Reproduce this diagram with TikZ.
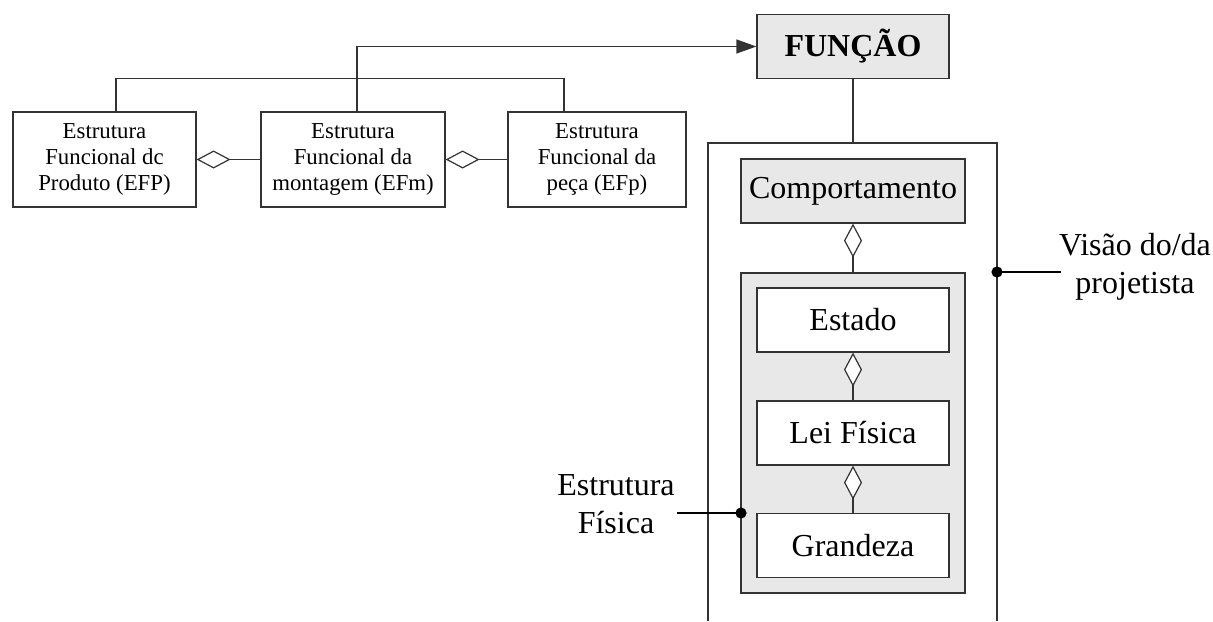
\documentclass[tikz,border=0pt]{standalone}
\usepackage{fontspec}
\setmainfont{Liberation Serif}
\usetikzlibrary{arrows.meta}
\definecolor{boxgray}{HTML}{E8E8E8}
\definecolor{linegray}{HTML}{333333}
\tikzset{
  smallbox/.style={draw=linegray, line width=0.6pt, fill=white, inner sep=0pt,
    align=center, minimum width=#1, minimum height=47.5pt,
    font=\fontsize{11.4}{13}\selectfont},
  bigbox/.style={draw=linegray, line width=0.6pt, inner sep=0pt, align=center,
    minimum width=96pt, minimum height=32pt, font=\fontsize{16}{19}\selectfont},
  lbl/.style={inner sep=0pt, align=center, font=\fontsize{16}{19}\selectfont},
  wire/.style={draw=linegray, line width=0.6pt},
  agg/.style={wire, {Diamond[fill=white, length=17pt, width=9pt]}-},
  pin/.style={draw=black, line width=0.9pt},
}
\begin{document}
\begin{tikzpicture}[x=0.5pt, y=-0.5pt]
\useasboundingbox (0,0) rectangle (1213,621);

% functional structure boxes
\node[smallbox=91.5pt] (b1) at (104.5,159.5) {Estrutura\\Funcional dc\\Produto (EFP)};
\node[smallbox=92pt] (b2) at (353,159.5) {Estrutura\\Funcional da\\montagem (EFm)};
\node[smallbox=89pt] (b3) at (597,159.5) {Estrutura\\Funcional da\\peça (EFp)};

\draw[agg] (b1.east) -- (b2.west);
\draw[agg] (b2.east) -- (b3.west);

\draw[wire] ([xshift=5.75pt]b1.north) -- ++(0,-33) -| ([xshift=-16.5pt]b3.north);

% function
\node[bigbox, fill=boxgray, font=\fontsize{16}{19}\selectfont\bfseries] (f) at (853,46.5) {FUNÇÃO};
\draw[wire, -{Triangle[length=10pt, width=7pt]}] ([xshift=2pt]b2.north) |- (f.west);

% designer's view frame
\coordinate (ftop) at (853,143);
\coordinate (fl0) at (708,621);
\coordinate (fl1) at (708,143);
\coordinate (fr1) at (997,143);
\coordinate (fr0) at (997,621);
\draw[wire] (f.south) -- (ftop);
\draw[wire] (fl0) -- (fl1) -- (fr1) -- (fr0);

\node[bigbox, fill=boxgray, minimum width=112pt] (comp) at (853,191) {Comportamento};

% physical structure
\node[draw=linegray, line width=0.6pt, fill=boxgray, minimum width=112pt, minimum height=160pt, inner sep=0pt] (ps) at (853,433) {};
\node[bigbox, fill=white] (est) at (853,320) {Estado};
\node[bigbox, fill=white] (lei) at (853,433) {Lei Física};
\node[bigbox, fill=white] (gra) at (853,545.5) {Grandeza};

\draw[agg] (comp.south) -- (ps.north);
\draw[agg] (est.south) -- (lei.north);
\draw[agg] (lei.south) -- (gra.north);

% labels
\node[lbl] (vis) at (1135,266.5) {Visão do/da\\projetista};
\coordinate (visdot) at (997,272);
\coordinate (visend) at (1061,272);
\draw[pin] (visdot) -- (visend);
\fill (visdot) circle[radius=2.8pt];

\node[lbl] (ef) at (616,504) {Estrutura\\Física};
\coordinate (efstart) at (677,513);
\coordinate (efdot) at (741,513);
\draw[pin] (efstart) -- (efdot);
\fill (efdot) circle[radius=2.8pt];
\end{tikzpicture}
\end{document}
